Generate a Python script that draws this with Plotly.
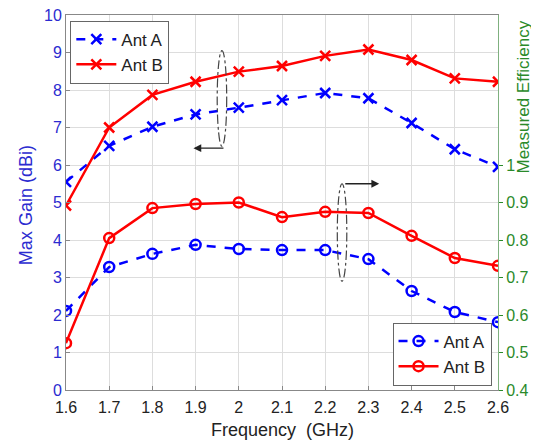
import plotly.graph_objects as go

freq = [1.6, 1.7, 1.8, 1.9, 2.0, 2.1, 2.2, 2.3, 2.4, 2.5, 2.6]
gain_a = [5.55, 6.51, 7.02, 7.35, 7.53, 7.73, 7.92, 7.78, 7.12, 6.42, 5.95]
gain_b = [4.92, 7.00, 7.87, 8.22, 8.49, 8.64, 8.91, 9.08, 8.80, 8.31, 8.22]
eff_a = [0.611, 0.728, 0.763, 0.787, 0.776, 0.773, 0.773, 0.749, 0.664, 0.608, 0.581]
eff_b = [0.525, 0.805, 0.885, 0.896, 0.900, 0.861, 0.875, 0.872, 0.811, 0.752, 0.731]
left_ticks = [0, 1, 2, 3, 4, 5, 6, 7, 8, 9, 10]
right_ticks = [0.4, 0.5, 0.6, 0.7, 0.8, 0.9, 1.0]
right_labels = ["0.4", "0.5", "0.6", "0.7", "0.8", "0.9", "1"]
x_ticks = [1.6, 1.7, 1.8, 1.9, 2.0, 2.1, 2.2, 2.3, 2.4, 2.5, 2.6]
x_labels = ["1.6", "1.7", "1.8", "1.9", "2", "2.1", "2.2", "2.3", "2.4", "2.5", "2.6"]

BLUE = "#0000ff"
RED = "#ff0000"
AXBLUE = "#2b2bd0"
GREEN = "#2a8a2a"
FONT = "Liberation Sans, Arial, sans-serif"

fig = go.Figure()
fig.add_trace(go.Scatter(x=freq, y=gain_a, name="Ant A", mode="lines+markers",
                         line=dict(color=BLUE, width=2.5, dash="dash"),
                         marker=dict(symbol="x-thin", size=10, line=dict(color=BLUE, width=2.5)),
                         legend="legend"))
fig.add_trace(go.Scatter(x=freq, y=gain_b, name="Ant B", mode="lines+markers",
                         line=dict(color=RED, width=2.5),
                         marker=dict(symbol="x-thin", size=10, line=dict(color=RED, width=2.5)),
                         legend="legend"))
fig.add_trace(go.Scatter(x=freq, y=eff_a, name="Ant A", mode="lines+markers", yaxis="y2",
                         line=dict(color=BLUE, width=2.5, dash="dash"),
                         marker=dict(symbol="circle-open", size=10, line=dict(color=BLUE, width=2.5)),
                         legend="legend2"))
fig.add_trace(go.Scatter(x=freq, y=eff_b, name="Ant B", mode="lines+markers", yaxis="y2",
                         line=dict(color=RED, width=2.5),
                         marker=dict(symbol="circle-open", size=10, line=dict(color=RED, width=2.5)),
                         legend="legend2"))

# annotation ellipses (dash-dot) and arrows
fig.add_shape(type="circle", xref="x", yref="y", x0=1.950, x1=1.972, y0=6.5, y1=9.05,
              line=dict(color="#444444", width=1.2, dash="dashdot"))
fig.add_annotation(xref="x", yref="y", axref="x", ayref="y", x=1.895, y=6.45, ax=1.968, ay=6.45,
                   text="", showarrow=True, arrowhead=2, arrowsize=1.2, arrowwidth=1.3, arrowcolor="#222222")
fig.add_shape(type="circle", xref="x", yref="y", x0=2.228, x1=2.250, y0=2.9, y1=5.5,
              line=dict(color="#444444", width=1.2, dash="dashdot"))
fig.add_annotation(xref="x", yref="y", axref="x", ayref="y", x=2.325, y=5.5, ax=2.243, ay=5.5,
                   text="", showarrow=True, arrowhead=2, arrowsize=1.2, arrowwidth=1.3, arrowcolor="#222222")

# axis titles as positioned annotations
fig.add_annotation(xref="paper", yref="paper", x=0, y=0.493, xshift=-40, xanchor="center", yanchor="middle",
                   text="Max Gain (dBi)", textangle=-90, showarrow=False,
                   font=dict(size=18, color=AXBLUE, family=FONT))
fig.add_annotation(xref="paper", yref="paper", x=1, y=0.78, xshift=25, xanchor="center", yanchor="middle",
                   text="Measured Efficiency", textangle=-90, showarrow=False,
                   font=dict(size=17, color=GREEN, family=FONT))
fig.add_annotation(xref="paper", yref="paper", x=0.5, y=0, yshift=-40, xanchor="center", yanchor="middle",
                   text="Frequency  (GHz)", showarrow=False,
                   font=dict(size=18, color="#222222", family=FONT))

fig.update_layout(
    width=531, height=437,
    margin=dict(l=58, r=41, t=7, b=55, autoexpand=False),
    paper_bgcolor="white", plot_bgcolor="white",
    font=dict(family=FONT, size=16, color="#222222"),
    xaxis=dict(range=[1.6, 2.6], tickvals=x_ticks, ticktext=x_labels,
               showgrid=True, gridcolor="#dddddd", gridwidth=1,
               showline=True, linecolor="#888888", mirror=True,
               ticks="inside", ticklen=4, tickcolor="#888888", ticklabelstandoff=3,
               zeroline=False, automargin=False, tickfont=dict(size=16, color="#222222")),
    yaxis=dict(range=[0, 10], tickvals=left_ticks,
               showgrid=True, gridcolor="#dddddd", gridwidth=1,
               showline=True, linecolor="#888888", mirror=True,
               ticks="inside", ticklen=4, tickcolor="#888888", ticklabeloverflow="allow",
               zeroline=False, automargin=False, tickfont=dict(size=16, color=AXBLUE)),
    yaxis2=dict(range=[0.4, 1.4], tickvals=right_ticks, ticktext=right_labels,
                overlaying="y", side="right", showgrid=False,
                showline=True, linecolor="#7fb07f",
                ticks="outside", ticklen=4, tickcolor=GREEN,
                zeroline=False, automargin=False, tickfont=dict(size=16, color=GREEN)),
    legend=dict(x=0.01, y=0.985, xanchor="left", yanchor="top",
                bgcolor="white", bordercolor="#666666", borderwidth=1,
                font=dict(size=17, color="#222222"), tracegroupgap=0, itemwidth=40),
    legend2=dict(x=0.985, y=0.012, xanchor="right", yanchor="bottom",
                 bgcolor="white", bordercolor="#666666", borderwidth=1,
                 font=dict(size=17, color="#222222"), tracegroupgap=0, itemwidth=40),
    showlegend=True,
)

fig.write_html("out.html")
